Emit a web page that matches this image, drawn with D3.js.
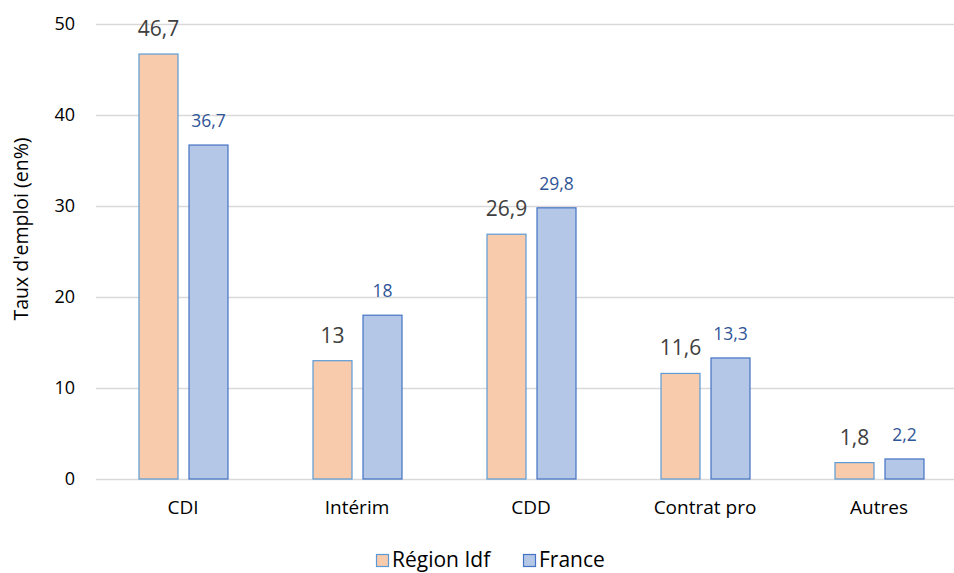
<!DOCTYPE html>
<html>
<head>
<meta charset="utf-8">
<script src="https://cdn.jsdelivr.net/npm/d3@7"></script>
<style>
  body { margin: 0; background: #fff; }
  svg { display: block; font-family: "Open Sans", "Noto Sans", sans-serif; }
</style>
</head>
<body>
<svg id="chart" width="954" height="573"></svg>
<script>
// Répartition des contrats : Région Idf vs France
const categories = ["CDI", "Intérim", "CDD", "Contrat pro", "Autres"];
const regionValues = [46.7, 13, 26.9, 11.6, 1.8];
const franceValues = [36.7, 18, 29.8, 13.3, 2.2];
const seriesNames = ["Région Idf", "France"];
const yTicks = [0, 10, 20, 30, 40, 50];

const fills = ["#F8CBAD", "#B4C7E7"];
const strokes = ["#5B9BD5", "#4472C4"];
const labelColors = ["#404040", "#2F5597"];
const labelSizes = [21, 17.5];

const svg = d3.select("#chart");
const plot = { left: 96, right: 966, top: 24, bottom: 479 };

const x = d3.scaleBand().domain(categories).range([plot.left, plot.right]);
const y = d3.scaleLinear().domain([0, 50]).range([plot.bottom, plot.top]);
// two bars per group, 39px wide with an 11px gap
const inner = d3.scaleBand().domain([0, 1]).range([-44.5, 44.5]).paddingInner(0.22);

// grid lines
svg.append("g")
  .selectAll("line")
  .data(yTicks)
  .join("line")
  .attr("x1", plot.left).attr("x2", 954)
  .attr("y1", d => y(d) + 0.5).attr("y2", d => y(d) + 0.5)
  .attr("stroke", "#D9D9D9").attr("stroke-width", 1.5);

// y axis tick labels
svg.append("g")
  .selectAll("text")
  .data(yTicks)
  .join("text")
  .attr("x", 75).attr("y", d => y(d))
  .attr("dy", "0.36em")
  .attr("text-anchor", "end")
  .attr("font-size", 18)
  .attr("fill", "#000")
  .text(d => d);

// y axis title
svg.append("text")
  .attr("transform", `translate(28, 229) rotate(-90)`)
  .attr("text-anchor", "middle")
  .attr("font-size", 19.5)
  .attr("fill", "#000")
  .text("Taux d'emploi (en%)");

// bars and value labels
const series = [regionValues, franceValues];
series.forEach((vals, s) => {
  const data = categories.map((c, i) => ({ c, v: vals[i] }));
  const g = svg.append("g");
  g.selectAll("rect")
    .data(data)
    .join("rect")
    .attr("x", d => x(d.c) + x.bandwidth() / 2 + inner(s) + 0.5)
    .attr("y", d => y(d.v))
    .attr("width", inner.bandwidth())
    .attr("height", d => y(0) - y(d.v))
    .attr("fill", fills[s])
    .attr("stroke", strokes[s])
    .attr("stroke-width", 1.2);

  g.selectAll("text")
    .data(data)
    .join("text")
    .attr("x", d => x(d.c) + x.bandwidth() / 2 + inner(s) + inner.bandwidth() / 2 + 0.5)
    .attr("y", d => y(d.v) - 18)
    .attr("text-anchor", "middle")
    .attr("font-size", labelSizes[s])
    .attr("fill", labelColors[s])
    .text(d => String(d.v).replace(".", ","));
});

// x axis category labels
svg.append("g")
  .selectAll("text")
  .data(categories)
  .join("text")
  .attr("x", d => x(d) + x.bandwidth() / 2)
  .attr("y", 514)
  .attr("text-anchor", "middle")
  .attr("font-size", 19)
  .attr("fill", "#000")
  .text(d => d);

// legend
const legendX = [376, 523];
const legend = svg.append("g");
seriesNames.forEach((name, s) => {
  legend.append("rect")
    .attr("x", legendX[s] + 0.5).attr("y", 554.5)
    .attr("width", 12).attr("height", 12)
    .attr("fill", fills[s]).attr("stroke", strokes[s]).attr("stroke-width", 1.2);
  legend.append("text")
    .attr("x", legendX[s] + 16).attr("y", 567)
    .attr("font-size", 21)
    .attr("fill", "#000")
    .text(name);
});
</script>
</body>
</html>
